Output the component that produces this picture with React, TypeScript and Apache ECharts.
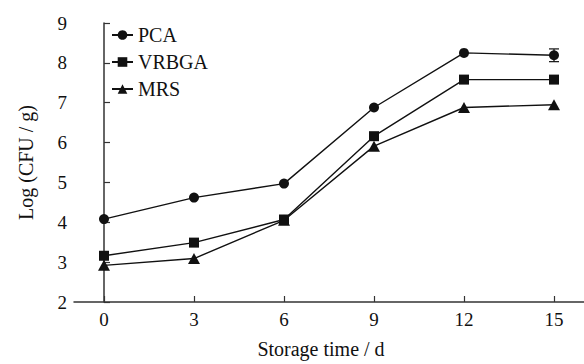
import React, { useEffect, useRef } from "react";
import * as echarts from "echarts";

const days = [0, 3, 6, 9, 12, 15];
const xTicks = [0, 3, 6, 9, 12, 15];
const pca = [4.08, 4.62, 4.97, 6.88, 8.25, 8.19];
const vrbga = [3.16, 3.49, 4.07, 6.16, 7.58, 7.58];
const mrs = [2.92, 3.09, 4.05, 5.91, 6.88, 6.95];
const pcaErr = [0, 0, 0, 0, 0, 0.16];
const vrbgaErr = [0, 0, 0, 0, 0, 0];
const mrsErr = [0, 0, 0, 0, 0, 0];

const FONT = "'Liberation Serif', 'Times New Roman', serif";
const INK = "#111";
const AXIS = "#333";

function pairs(vals: number[]) {
  return days.map((d, i) => [d, vals[i]]);
}

function errData(vals: number[], errs: number[]) {
  const out: number[][] = [];
  days.forEach((d, i) => {
    if (errs[i] > 0) out.push([d, vals[i] - errs[i], vals[i] + errs[i]]);
  });
  return out;
}

export default function App() {
  const ref = useRef<HTMLDivElement>(null);
  useEffect(() => {
    document.body.style.margin = "0";
    if (!ref.current) return;
    const chart = echarts.init(ref.current, null, { renderer: "svg" });
    const lineSeries = (name: string, vals: number[], symbol: string, size: any) => ({
      name,
      type: "line",
      data: pairs(vals),
      symbol,
      symbolSize: size,
      showSymbol: true,
      lineStyle: { color: INK, width: 1.4 },
      itemStyle: { color: INK, borderWidth: 0 },
      z: 3,
    });
    const errSeries = (vals: number[], errs: number[]) => ({
      type: "custom",
      data: errData(vals, errs),
      z: 4,
      renderItem: (params: any, api: any) => {
        const x = api.value(0);
        const lo = api.coord([x, api.value(1)]);
        const hi = api.coord([x, api.value(2)]);
        const w = 5;
        const st = { stroke: INK, lineWidth: 1.2 };
        return {
          type: "group",
          children: [
            { type: "line", shape: { x1: lo[0], y1: lo[1], x2: hi[0], y2: hi[1] }, style: st },
            { type: "line", shape: { x1: lo[0] - w, y1: lo[1], x2: lo[0] + w, y2: lo[1] }, style: st },
            { type: "line", shape: { x1: hi[0] - w, y1: hi[1], x2: hi[0] + w, y2: hi[1] }, style: st },
          ],
        };
      },
    });
    chart.setOption({
      animation: false,
      backgroundColor: "#fff",
      textStyle: { fontFamily: FONT },
      grid: { left: 74, top: 23, bottom: 59, right: -12, containLabel: false },
      legend: {
        orient: "vertical",
        left: 106,
        top: 20,
        itemWidth: 21,
        itemHeight: 12,
        itemGap: 7,
        data: ["PCA", "VRBGA", "MRS"],
        textStyle: { fontFamily: FONT, fontSize: 20, color: INK, lineHeight: 20 },
      },
      xAxis: {
        type: "value",
        min: -1,
        max: 16,
        name: "Storage time / d",
        nameLocation: "middle",
        nameGap: 37,
        nameTextStyle: { fontFamily: FONT, fontSize: 20, color: INK, padding: [0, 16, 0, 0] },
        axisLine: { lineStyle: { color: AXIS, width: 1.5 } },
        axisTick: { inside: true, length: 6, customValues: xTicks, lineStyle: { color: AXIS, width: 1.2 } },
        axisLabel: { customValues: xTicks, fontFamily: FONT, fontSize: 19, color: INK, margin: 8 },
        splitLine: { show: false },
      },
      yAxis: {
        type: "value",
        min: 2,
        max: 9,
        interval: 1,
        name: "Log (CFU / g)",
        nameLocation: "middle",
        nameGap: 38,
        nameRotate: 90,
        nameTextStyle: { fontFamily: FONT, fontSize: 20, color: INK },
        axisLine: { show: true, lineStyle: { color: AXIS, width: 1.5 } },
        axisTick: { show: true, inside: true, length: 6, lineStyle: { color: AXIS, width: 1.2 } },
        axisLabel: { fontFamily: FONT, fontSize: 19, color: INK, margin: 7 },
        splitLine: { show: false },
      },
      series: [
        lineSeries("PCA", pca, "circle", 10),
        lineSeries("VRBGA", vrbga, "rect", 10),
        lineSeries("MRS", mrs, "triangle", [12, 11]),
        errSeries(pca, pcaErr),
        errSeries(vrbga, vrbgaErr),
        errSeries(mrs, mrsErr),
      ],
    });
    return () => chart.dispose();
  }, []);
  return <div ref={ref} style={{ width: 584, height: 364 }} />;
}
